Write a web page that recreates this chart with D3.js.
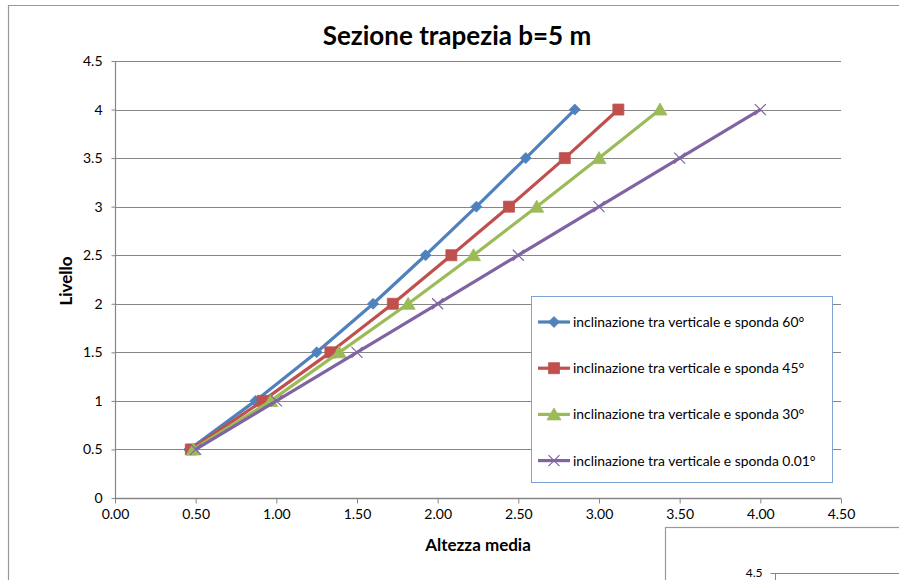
<!DOCTYPE html>
<html>
<head>
<meta charset="utf-8">
<script src="https://cdn.jsdelivr.net/npm/d3@7/dist/d3.min.js"></script>
<style>
  html, body { margin: 0; padding: 0; background: #ffffff; }
  svg { display: block; }
  text { font-family: Lato, "Open Sans", sans-serif; fill: #000; }
</style>
</head>
<body>
<svg id="chart" width="899" height="580"></svg>
<script>
// Livello (water level) values shared by every series
const levels = [0.5, 1, 1.5, 2, 2.5, 3, 3.5, 4];

// Altezza media for each bank inclination
const h60  = [0.46, 0.87, 1.25, 1.60, 1.925, 2.24, 2.546, 2.85];
const h45  = [0.47, 0.915, 1.335, 1.722, 2.085, 2.442, 2.788, 3.12];
const h30  = [0.485, 0.965, 1.39, 1.817, 2.222, 2.614, 3.0, 3.378];
const h001 = [0.5, 1.0, 1.5, 2.0, 2.5, 3.0, 3.5, 4.0];

const seriesNames = [
  "inclinazione tra verticale e sponda 60°",
  "inclinazione tra verticale e sponda 45°",
  "inclinazione tra verticale e sponda 30°",
  "inclinazione tra verticale e sponda 0.01°"
];

const xTicks = [0, 0.5, 1, 1.5, 2, 2.5, 3, 3.5, 4, 4.5];
const yTicks = [0, 0.5, 1, 1.5, 2, 2.5, 3, 3.5, 4, 4.5];
const secondChartTicks = [4.5];

const titleText = "Sezione trapezia b=5 m";
const xTitle = "Altezza media";
const yTitle = "Livello";

const colors = ["#4F81BD", "#C0504D", "#9BBB59", "#8064A2"];
const markers = ["diamond", "square", "triangle", "x"];
const seriesValues = [h60, h45, h30, h001];

const series = seriesValues.map((vals, i) => ({
  name: seriesNames[i],
  color: colors[i],
  marker: markers[i],
  points: vals.map((v, j) => ({ x: v, y: levels[j] }))
}));

const svg = d3.select("#chart");
const gridColor = "#868686";

// outer chart frame
svg.append("path")
  .attr("d", "M8.5,590 L8.5,5.5 L905,5.5")
  .attr("fill", "none")
  .attr("stroke", "#999")
  .attr("stroke-width", 1.2);

const x = d3.scaleLinear().domain([0, 4.5]).range([115, 841]);
const y = d3.scaleLinear().domain([0, 4.5]).range([498, 61]);

// horizontal gridlines
svg.append("g")
  .selectAll("line")
  .data(yTicks.filter(d => d > 0))
  .join("line")
  .attr("x1", x(0)).attr("x2", x(4.5))
  .attr("y1", d => Math.round(y(d)) + 0.5)
  .attr("y2", d => Math.round(y(d)) + 0.5)
  .attr("stroke", gridColor)
  .attr("stroke-width", 1);

// x axis
const xAxis = svg.append("g")
  .attr("transform", `translate(0,${Math.round(y(0)) + 0.5})`)
  .call(d3.axisBottom(x).tickValues(xTicks).tickFormat(d3.format(".2f")).tickSize(5).tickPadding(6));
xAxis.select(".domain").attr("stroke", gridColor).attr("stroke-width", 1.5).attr("d", `M${x(0)},0H${x(4.5)}`);
xAxis.selectAll(".tick line").attr("stroke", gridColor);
xAxis.selectAll(".tick text").attr("font-size", 14).attr("fill", "#000")
  .style("font-family", "Lato, sans-serif");

// y axis
const yAxis = svg.append("g")
  .attr("transform", `translate(${Math.round(x(0)) + 0.5},0)`)
  .call(d3.axisLeft(y).tickValues(yTicks).tickFormat(d3.format("")).tickSize(4).tickPadding(9));
yAxis.select(".domain").attr("stroke", gridColor).attr("stroke-width", 1.2).attr("d", `M0,${y(4.5)}V${y(0)}`);
yAxis.selectAll(".tick line").attr("stroke", gridColor);
yAxis.selectAll(".tick text").attr("font-size", 14).attr("fill", "#000")
  .style("font-family", "Lato, sans-serif");

// marker shapes
function markerPath(type) {
  switch (type) {
    case "diamond": return "M0,-5.5L5.5,0L0,5.5L-5.5,0Z";
    case "square": return "M-5.5,-5.5H5.5V5.5H-5.5Z";
    case "triangle": return "M0,-6.5L7,5.5L-7,5.5Z";
    case "x": return "M-5.5,-5.5L5.5,5.5M-5.5,5.5L5.5,-5.5";
  }
}

function drawMarker(sel, s) {
  sel.append("path")
    .attr("d", markerPath(s.marker))
    .attr("fill", s.marker === "x" ? "none" : s.color)
    .attr("stroke", s.color)
    .attr("stroke-width", s.marker === "x" ? 1.2 : 0.8);
}

const line = d3.line().x(d => x(d.x)).y(d => y(d.y));

const seriesG = svg.append("g")
  .selectAll("g")
  .data(series)
  .join("g");

seriesG.append("path")
  .attr("d", s => line(s.points))
  .attr("fill", "none")
  .attr("stroke", s => s.color)
  .attr("stroke-width", 3.2)
  .attr("stroke-linejoin", "round");

seriesG.each(function (s) {
  d3.select(this).selectAll("g.mk")
    .data(s.points)
    .join("g")
    .attr("class", "mk")
    .attr("transform", d => `translate(${x(d.x)},${y(d.y)})`)
    .each(function () { drawMarker(d3.select(this), s); });
});

// legend
const legend = svg.append("g");
legend.append("rect")
  .attr("x", 531.5).attr("y", 296.5)
  .attr("width", 301).attr("height", 186)
  .attr("fill", "#fff")
  .attr("stroke", "#7FA3D3")
  .attr("stroke-width", 1);

const legendRows = legend.selectAll("g.row")
  .data(series)
  .join("g")
  .attr("class", "row")
  .attr("transform", (d, i) => `translate(0,${322 + i * 46.2})`);

legendRows.append("line")
  .attr("x1", 538).attr("x2", 570)
  .attr("stroke", d => d.color)
  .attr("stroke-width", 3.2);
legendRows.append("g")
  .attr("transform", "translate(554,0)")
  .each(function (s) { drawMarker(d3.select(this), s); });
legendRows.append("text")
  .attr("x", 573).attr("y", 5)
  .attr("font-size", 13.9)
  .text(d => d.name);

// titles
svg.append("text")
  .attr("x", 457).attr("y", 45)
  .attr("text-anchor", "middle")
  .attr("font-size", 26)
  .attr("font-weight", "bold")
  .text(titleText);

svg.append("text")
  .attr("x", 478).attr("y", 551)
  .attr("text-anchor", "middle")
  .attr("font-size", 17)
  .attr("font-weight", "bold")
  .text(xTitle);

svg.append("text")
  .attr("transform", "translate(72,281) rotate(-90)")
  .attr("text-anchor", "middle")
  .attr("font-size", 17)
  .attr("font-weight", "bold")
  .text(yTitle);

// neighbouring chart frame at the lower right
const second = svg.append("g");
second.append("rect")
  .attr("x", 665.5).attr("y", 527.5)
  .attr("width", 300).attr("height", 100)
  .attr("fill", "#fff")
  .attr("stroke", "#999")
  .attr("stroke-width", 1.2);
const y2 = d3.scaleLinear().domain([0, 4.5]).range([760, 573]);
const y2Axis = second.append("g")
  .attr("transform", "translate(775.5,0)")
  .call(d3.axisLeft(y2).tickValues(secondChartTicks).tickFormat(d3.format("")).tickSize(5).tickPadding(8));
y2Axis.select(".domain").attr("stroke", gridColor).attr("d", `M0,${y2(4.5)}V${y2(0)}`);
y2Axis.selectAll(".tick line").attr("stroke", gridColor);
y2Axis.selectAll(".tick text").attr("font-size", 12).attr("fill", "#000")
  .attr("dy", "0.28em")
  .style("font-family", "Lato, sans-serif");
second.append("line")
  .attr("x1", 775).attr("x2", 905)
  .attr("y1", Math.round(y2(4.5)) + 0.5).attr("y2", Math.round(y2(4.5)) + 0.5)
  .attr("stroke", gridColor);
</script>
</body>
</html>
